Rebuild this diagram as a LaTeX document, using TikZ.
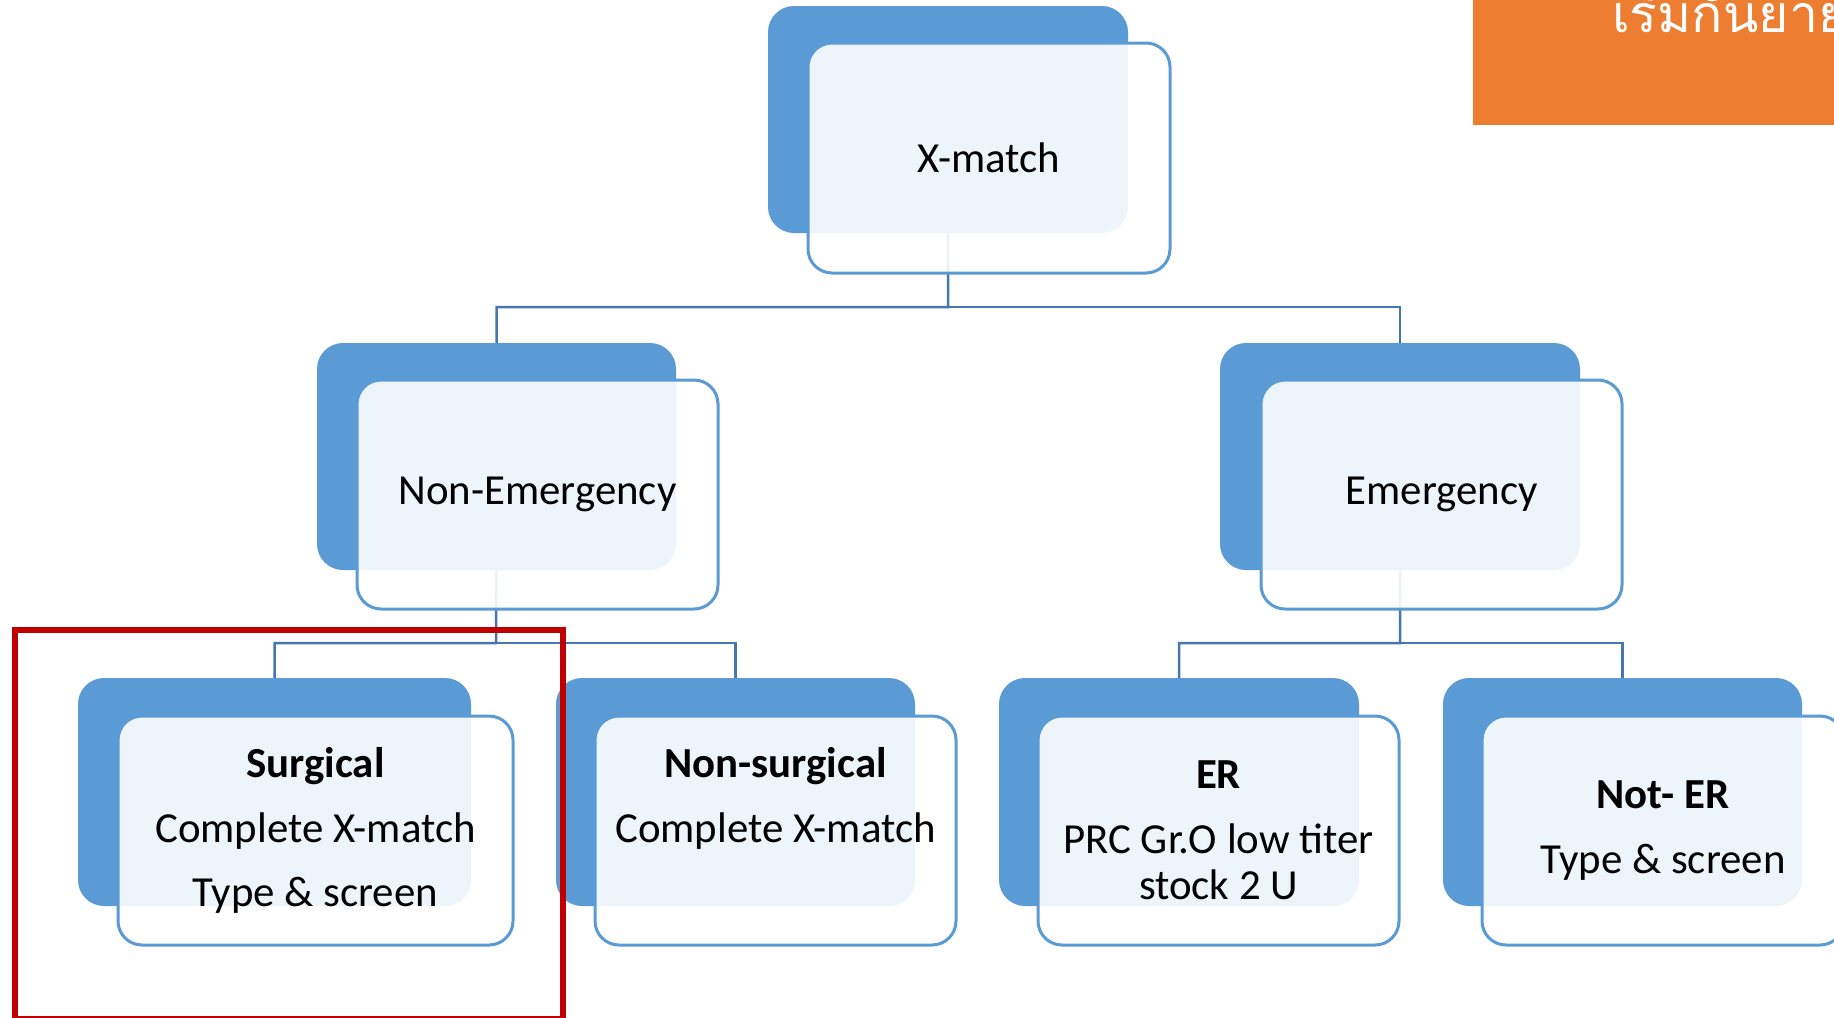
\documentclass[tikz,border=0pt]{standalone}
\usepackage{fontspec}
\setmainfont{Carlito}
\newfontfamily\thaifont[Script=Thai]{Loma}
\definecolor{accent}{HTML}{5B9BD5}
\definecolor{connblue}{HTML}{4677B2}
\definecolor{banner}{HTML}{ED7D31}
\definecolor{framered}{HTML}{C00000}
\begin{document}
\begin{tikzpicture}[x=1bp,y=-1bp,
  back/.style 2 args={fill=accent, rounded corners=26bp,
    minimum width=#1bp, minimum height=#2bp, anchor=north west,
    inner sep=0pt, outer sep=0pt},
  front/.style 2 args={draw=accent, line width=3bp, fill=white,
    fill opacity=0.9, text opacity=1, rounded corners=24bp,
    minimum width=#1bp, minimum height=#2bp, anchor=north west,
    inner sep=0pt, outer sep=0pt, align=center,
    font=\fontsize{43}{65}\selectfont},
  conn/.style={draw=connblue, line width=2.5bp}]

% page area
\useasboundingbox (0,0) rectangle (1834,1017);
\fill[white] (0,0) rectangle (1834,1017);

% title banner
\fill[banner] (1473,0) rectangle (1834,125);
\node[anchor=base west, text=white, font=\thaifont\fontsize{52}{60}\selectfont,
  inner sep=0pt] (title) at (1612,32) {เริ่มกันยายน};

% back plates
\node[back={360}{227}] (xm-b) at (768,6) {};
\node[back={359}{227}] (ne-b) at (317,343) {};
\node[back={360}{227}] (em-b) at (1220,343) {};
\node[back={393}{228}] (su-b) at (78,678) {};
\node[back={359}{228}] (ns-b) at (556,678) {};
\node[back={360}{228}] (er-b) at (999,678) {};
\node[back={359}{228}] (nr-b) at (1443,678) {};

% junctions of the tree
\coordinate (j0) at (948,307);
\coordinate (j1) at (496,643);
\coordinate (j2) at (1400,643);

% connectors
\draw[conn] (xm-b.south) -- (j0) -| (ne-b.north);
\draw[conn] (j0) -| (em-b.north);
\draw[conn] (ne-b.south) -- (j1) -| (su-b.north);
\draw[conn] (j1) -| (ns-b.north);
\draw[conn] (em-b.south) -- (j2) -| (er-b.north);
\draw[conn] (j2) -| (nr-b.north);

% front cards with their texts
\node[front={362}{230}] (xm) at (808,43) {X-match};
\node[front={361}{229}] (ne) at (357,380) {Non-Emergency};
\node[front={361}{229}] (em) at (1261,380) {Emergency};
\node[front={395}{229}] (su) at (118,716)
  {\textbf{Surgical}\\Complete X-match\\Type \& screen};
\node[front={361}{229}] (ns) at (595,716)
  {\textbf{Non-surgical}\\Complete X-match\\\vphantom{Type}};
\node[front={361}{229}] (er) at (1038,716)
  {\textbf{ER}\\PRC Gr.O low titer\\[-19bp]stock 2 U};
\node[front={362}{229}] (nr) at (1482,716)
  {\textbf{Not- ER}\\Type \& screen};

% highlight frame
\draw[framered, line width=6.5bp] (15,630) rectangle (563,1019);
\end{tikzpicture}
\end{document}
